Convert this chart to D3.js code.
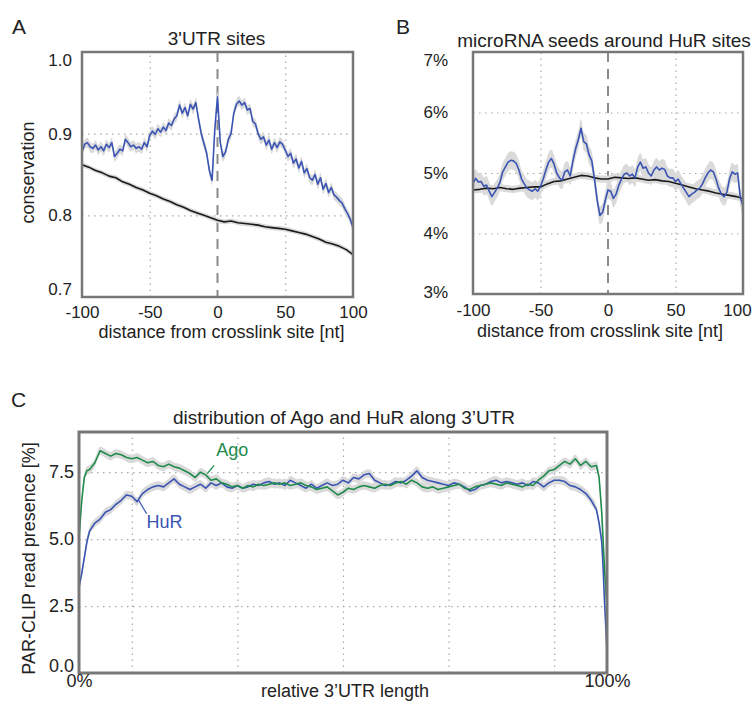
<!DOCTYPE html>
<html>
<head>
<meta charset="utf-8">
<script src="https://cdn.jsdelivr.net/npm/d3@7"></script>
<style>
  body { margin: 0; background: #fff; }
  svg text { font-family: "Liberation Sans", Arial, sans-serif; fill: #222; }
  .grid line { stroke: #a8a8a8; stroke-width: 1.2; stroke-dasharray: 1.5 4.5; }
  .grid .domain { display: none; }
  .lab .domain, .lab line { display: none; }
</style>
</head>
<body>
<svg id="fig" width="754" height="704"></svg>
<script>
// --- data ---
// panel A: conservation around HuR 3'UTR crosslink sites
const aPosBlue = d3.range(-100, 101, 2);
const aBlue = [
  .878, .887, .889, .884, .882, .886, .880, .884, .879, .887,
  .883, .889, .872, .876, .881, .879, .893, .889, .884, .886,
  .882, .884, .881, .889, .884, .898, .903, .899, .906, .902,
  .908, .904, .913, .910, .918, .922, .935, .925, .932, .922,
  .936, .930, .938, .918, .900, .888, .876, .855, .843, .905,
  .945, .890, .872, .878, .893, .900, .925, .936, .940, .935,
  .938, .929, .931, .915, .912, .900, .893, .896, .886, .892,
  .881, .889, .883, .890, .887, .880, .872, .876, .864, .869,
  .858, .866, .852, .857, .846, .843, .850, .838, .846, .832,
  .839, .828, .834, .825, .822, .818, .815, .808, .802, .795,
  .785
];
const aPosBlack = d3.range(-100, 101, 5);
const aBlack = [
  .862, .859, .855, .852, .848, .846, .841, .838, .834, .831,
  .827, .824, .820, .817, .813, .810, .806, .803, .800, .797,
  .794, .792, .793, .791, .790, .789, .788, .786, .785, .784,
  .783, .781, .779, .777, .774, .771, .767, .765, .762, .758,
  .752
];

// panel B: microRNA seed frequency around HuR sites (%)
const bPosBlue = d3.range(-100, 101, 2);
const bBlue = [
  4.83, 4.91, 4.85, 4.86, 4.78, 4.80, 4.70, 4.61, 4.68, 4.75,
  4.85, 5.02, 5.10, 5.18, 5.21, 5.20, 5.16, 5.05, 4.90, 4.82,
  4.75, 4.72, 4.70, 4.74, 4.70, 4.78, 4.90, 5.05, 5.18, 5.24,
  5.15, 5.00, 4.92, 4.88, 5.02, 5.05, 4.95, 5.20, 5.40, 5.55,
  5.74, 5.52, 5.48, 5.30, 5.20, 4.90, 4.55, 4.30, 4.35, 4.55,
  4.72, 4.70, 4.58, 4.65, 4.80, 4.90, 4.98, 5.00, 4.95, 4.98,
  4.92, 5.10, 5.18, 5.08, 5.10, 5.00, 4.95, 5.05, 5.10, 5.05,
  5.08, 5.06, 4.95, 4.92, 4.92, 4.86, 4.90, 4.82, 4.75, 4.68,
  4.61, 4.65, 4.68, 4.72, 4.75, 4.82, 4.92, 5.00, 5.05, 5.02,
  4.90, 4.75, 4.65, 4.61, 4.68, 4.90, 5.02, 4.98, 5.00, 4.60,
  4.45
];
const bPosBlack = d3.range(-100, 101, 5);
const bBlack = [
  4.72, 4.73, 4.75, 4.74, 4.76, 4.74, 4.73, 4.75, 4.76, 4.77,
  4.77, 4.82, 4.86, 4.87, 4.90, 4.93, 4.96, 4.95, 4.92, 4.90,
  4.90, 4.93, 4.92, 4.91, 4.92, 4.90, 4.88, 4.89, 4.87, 4.86,
  4.83, 4.80, 4.77, 4.74, 4.72, 4.70, 4.67, 4.65, 4.63, 4.61,
  4.58
];

// panel C: read presence along the 3'UTR (%)
const cPct = [
  0, 0.5, 1, 1.5,
  2, 3, 4, 5, 6, 7, 8, 9, 10, 11,
  12, 13, 14, 15, 16, 17, 18, 19, 20, 21,
  22, 23, 24, 25, 26, 27, 28, 29, 30, 31,
  32, 33, 34, 35, 36, 37, 38, 39, 40, 41,
  42, 43, 44, 45, 46, 47, 48, 49, 50, 51,
  52, 53, 54, 55, 56, 57, 58, 59, 60, 61,
  62, 63, 64, 65, 66, 67, 68, 69, 70, 71,
  72, 73, 74, 75, 76, 77, 78, 79, 80, 81,
  82, 83, 84, 85, 86, 87, 88, 89, 90, 91,
  92, 93, 94, 95, 96, 97, 98,
  98.5, 99, 99.25, 99.5, 99.75, 100
];
const cAgo = [
  5.0, 6.4, 7.3, 7.55,
  7.6, 7.85, 8.3, 8.2, 8.1, 8.2, 8.15, 8.05, 8.0, 8.05,
  7.95, 7.85, 7.9, 7.75, 7.7, 7.8, 7.7, 7.65, 7.55, 7.45,
  7.3, 7.5, 7.4, 7.2, 7.25, 7.1, 7.05, 6.95, 7.0, 6.9,
  7.0, 6.95, 7.05, 7.0, 7.05, 7.1, 7.05, 7.1, 7.0, 7.05,
  7.1, 7.0, 6.95, 6.85, 6.9, 6.95, 6.8, 6.65, 6.75, 6.9,
  6.85, 6.95, 7.0, 6.95, 6.9, 7.0, 7.05, 7.0, 7.1, 7.15,
  7.05, 7.2, 7.1, 6.95, 6.9, 6.95, 6.85, 6.9, 6.95, 7.0,
  7.05, 6.9, 6.85, 6.95, 7.0, 7.05, 7.1, 7.05, 7.0, 7.1,
  7.05, 7.0, 6.95, 7.05, 7.0, 7.2, 7.35, 7.55, 7.6, 7.75,
  7.9, 7.8, 8.0, 7.75, 7.9, 7.7, 7.75,
  7.3, 6.0, 5.0, 4.0, 3.2, 2.5
];
const cHuR = [
  3.2, 3.7, 4.3, 4.9,
  5.3, 5.6, 5.75, 6.0, 6.1, 6.3, 6.45, 6.65, 6.6, 6.4,
  6.7, 6.85, 6.95, 7.0, 6.95, 7.1, 7.25, 7.05, 6.95, 6.85,
  6.95, 7.05, 6.9, 7.1, 7.0, 7.1, 6.95, 6.9, 7.0, 6.9,
  6.95, 7.05, 7.0, 7.1, 7.15, 7.05, 7.1, 7.0, 7.2, 7.1,
  7.0, 6.9, 7.05, 6.9, 7.0, 7.1, 7.0, 7.05, 7.2, 7.1,
  7.3, 7.25, 7.4, 7.45, 7.2, 7.1, 7.0, 7.05, 7.15, 7.1,
  7.2, 7.35, 7.55, 7.3, 7.2, 7.15, 7.1, 7.05, 7.0, 7.1,
  7.05, 6.95, 6.8, 6.85, 7.0, 7.05, 7.15, 7.2, 7.1, 7.15,
  7.1, 7.05, 7.1, 7.0, 7.15, 7.1, 6.95, 7.1, 7.2, 7.2,
  7.15, 7.0, 6.95, 6.85, 6.7, 6.45, 6.1,
  5.6, 4.9, 4.0, 2.8, 1.8, 0.8
];

const ntTicks = [-100, -50, 0, 50, 100];
const aYTicks = [0.7, 0.8, 0.9, 1.0];
const bYTicks = [3, 4, 5, 6, 7];
const cYTicks = [0, 2.5, 5, 7.5];
const cXGrid = [10, 30, 50, 70, 90];
// series labels in panel C, positions in data units
const cLabels = [
  { text: 'Ago', key: 'ago', at: [26, 8.1], from: [25.6, 7.75], to: [24.3, 7.45] },
  { text: 'HuR', key: 'hur', at: [12.8, 5.4], from: [12.8, 5.95], to: [11.3, 6.45] }
];

const COL = { blue: '#3a54b4', black: '#1a1a1a', ago: '#1f8b4c', hur: '#3a54b4', band: '#dadada' };

const svg = d3.select('#fig');

function panel(o) {
  const w = o.width, h = o.height;
  const g = svg.append('g').attr('transform', `translate(${o.left},${o.top})`);
  const x = d3.scaleLinear().domain(o.xDomain).range([0, w]);
  const y = d3.scaleLinear().domain(o.yDomain).range([h, 0]);

  g.append('g').attr('class', 'grid')
    .call(d3.axisLeft(y).tickValues(o.yGrid).tickSize(-w).tickFormat(''));
  g.append('g').attr('class', 'grid').attr('transform', `translate(0,${h})`)
    .call(d3.axisBottom(x).tickValues(o.xGrid).tickSize(-h).tickFormat(''));

  if (o.zeroLine) {
    g.append('line')
      .attr('x1', x(0)).attr('x2', x(0)).attr('y1', 0).attr('y2', h)
      .attr('stroke', '#8a8a8a').attr('stroke-width', 2).attr('stroke-dasharray', '10 7');
  }

  const toPts = s => s.xs.map((xv, i) => ({ x: xv, v: s.vs[i] }));
  o.series.forEach(s => {
    g.append('path').datum(toPts(s))
      .attr('fill', COL.band)
      .attr('d', d3.area().curve(d3.curveMonotoneX)
        .x(d => x(d.x)).y0(d => y(d.v - s.se)).y1(d => y(d.v + s.se)));
  });
  o.series.forEach(s => {
    g.append('path').datum(toPts(s))
      .attr('fill', 'none').attr('stroke', s.color).attr('stroke-width', s.lw || 1.6)
      .attr('stroke-linejoin', 'round')
      .attr('d', d3.line().x(d => x(d.x)).y(d => y(d.v)));
  });

  g.append('rect').attr('width', w).attr('height', h)
    .attr('fill', 'none').attr('stroke', '#777').attr('stroke-width', o.frame || 2.5);

  const ya = g.append('g').attr('class', 'lab')
    .call(d3.axisLeft(y).tickValues(o.yTicks).tickFormat(o.yFormat).tickSize(0).tickPadding(o.yPad));
  ya.selectAll('text').attr('font-size', o.tickSize).attr('fill', '#222')
    .attr('font-family', '"Liberation Sans", Arial, sans-serif')
    .attr('transform', d => `translate(0,${(o.yShift && o.yShift[d]) || 0})`);
  const xa = g.append('g').attr('class', 'lab').attr('transform', `translate(0,${h})`)
    .call(d3.axisBottom(x).tickValues(o.xTicks).tickFormat(o.xFormat).tickSize(0).tickPadding(o.xPad));
  xa.selectAll('text').attr('font-size', o.tickSize).attr('fill', '#222')
    .attr('font-family', '"Liberation Sans", Arial, sans-serif')
    .attr('transform', d => `translate(${(o.xShift && o.xShift[d]) || 0},0)`);

  g.append('text').attr('x', w / 2 + (o.titleDx || 0)).attr('y', o.titleY)
    .attr('text-anchor', 'middle').attr('font-size', 19).text(o.title);
  g.append('text').attr('x', w / 2 + (o.xLabelDx || 0)).attr('y', h + o.xLabelY)
    .attr('text-anchor', 'middle').attr('font-size', 18).text(o.xLabel);
  if (o.yLabel) {
    g.append('text').attr('transform', `translate(${o.yLabelX},${h / 2 + (o.yLabelDy || 0)}) rotate(-90)`)
      .attr('text-anchor', 'middle').attr('font-size', 18).text(o.yLabel);
  }
  svg.append('text').attr('x', o.letter[1]).attr('y', o.letter[2])
    .attr('font-size', 21).text(o.letter[0]);
  return { g, x, y };
}

const fmtNt = d => String(d);

panel({
  left: 82, top: 52, width: 271, height: 245,
  xDomain: [-100, 100], yDomain: [0.7, 1.0],
  xGrid: [-50, 50], yGrid: [0.8, 0.9], zeroLine: true,
  xTicks: ntTicks, yTicks: aYTicks, xFormat: fmtNt, yFormat: d3.format('.1f'),
  tickSize: 17, xPad: 9, yPad: 10, yShift: { 1: 8, 0.7: -8 },
  title: "3'UTR sites", titleY: -7, titleDx: -1,
  xLabel: 'distance from crosslink site [nt]', xLabelY: 41, xLabelDx: 4,
  yLabel: 'conservation', yLabelX: -48, yLabelDy: -2,
  letter: ['A', 12, 34],
  series: [
    { xs: aPosBlack, vs: aBlack, se: 0.003, color: COL.black },
    { xs: aPosBlue, vs: aBlue, se: 0.006, color: COL.blue }
  ]
});

panel({
  left: 473, top: 52, width: 270, height: 242,
  xDomain: [-100, 100], yDomain: [3, 7],
  xGrid: [-50, 50], yGrid: [4, 5, 6], zeroLine: true,
  xTicks: ntTicks, yTicks: bYTicks, xFormat: fmtNt, yFormat: d => d + '%',
  tickSize: 17, xPad: 10, yPad: 25, yShift: { 7: 8, 3: -2 }, xShift: { 100: -6 },
  title: 'microRNA seeds around HuR sites', titleY: -5, titleDx: -4,
  xLabel: 'distance from crosslink site [nt]', xLabelY: 43, xLabelDx: -8,
  letter: ['B', 396, 34],
  series: [
    { xs: bPosBlack, vs: bBlack, se: 0.06, color: COL.black },
    { xs: bPosBlue, vs: bBlue, se: 0.15, color: COL.blue }
  ]
});

const pc = panel({
  left: 79, top: 432, width: 528, height: 241,
  xDomain: [0, 100], yDomain: [0, 9],
  xGrid: cXGrid, yGrid: [2.5, 5, 7.5], zeroLine: false, frame: 3,
  xTicks: [0, 100], yTicks: cYTicks, xFormat: d => d + '%', yFormat: d3.format('.1f'),
  tickSize: 18, xPad: 1, yPad: 5, yShift: { 0: -7 },
  title: 'distribution of Ago and HuR along 3\u2019UTR', titleY: -8, titleDx: 1,
  xLabel: 'relative 3\u2019UTR length', xLabelY: 24, xLabelDx: 2,
  yLabel: 'PAR-CLIP read presence [%]', yLabelX: -44, yLabelDy: 6,
  letter: ['C', 11, 407],
  series: [
    { xs: cPct, vs: cHuR, se: 0.16, color: COL.hur, lw: 1.6 },
    { xs: cPct, vs: cAgo, se: 0.16, color: COL.ago, lw: 1.6 }
  ]
});

cLabels.forEach(l => {
  pc.g.append('line')
    .attr('x1', pc.x(l.from[0])).attr('y1', pc.y(l.from[1]))
    .attr('x2', pc.x(l.to[0])).attr('y2', pc.y(l.to[1]))
    .attr('stroke', COL[l.key]).attr('stroke-width', 1.2);
  pc.g.append('text').attr('x', pc.x(l.at[0])).attr('y', pc.y(l.at[1]))
    .attr('font-size', 18).style('fill', COL[l.key]).text(l.text);
});
</script>
</body>
</html>
